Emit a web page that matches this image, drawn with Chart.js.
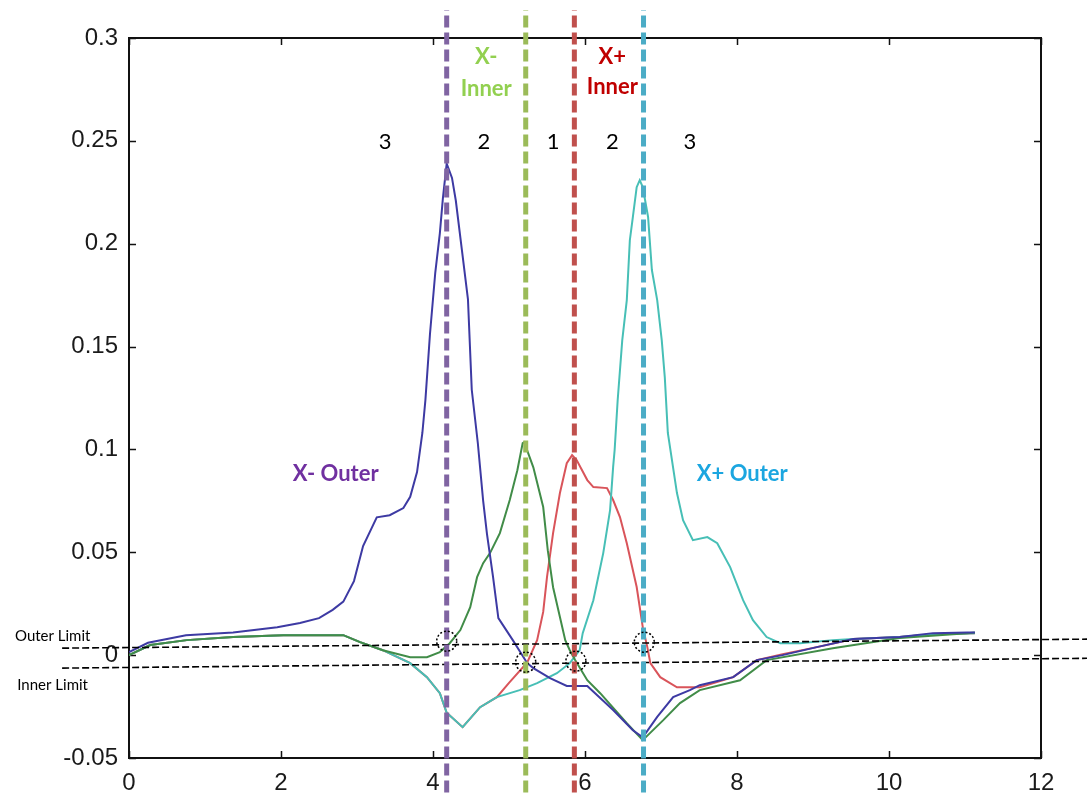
<!DOCTYPE html>
<html><head><meta charset="utf-8">
<script src="https://cdn.jsdelivr.net/npm/chart.js@4.4.1/dist/chart.umd.min.js"></script>
<style>html,body{margin:0;padding:0;background:#fff;}#wrap{width:1087px;height:797px;}</style>
</head><body><div id="wrap"><canvas id="c" width="1087" height="797"></canvas></div>
<script>
const xTickLabels = ['0','2','4','6','8','10','12'];
const yTickLabels = ['-0.05','0','0.05','0.1','0.15','0.2','0.25','0.3'];

const xMinusOuterX = [0,0.25,0.75,1.37,1.95,2.25,2.5,2.68,2.82,2.96,3.08,3.26,3.43,3.61,3.7,3.79,3.86,3.9,3.96,4.03,4.09,4.13,4.18,4.25,4.3,4.38,4.46,4.51,4.59,4.66,4.71,4.79,4.86,5.05,5.24,5.32,5.54,5.76,6.03,6.37,6.63,6.76,6.95,7.16,7.38,7.51,7.95,8.26,8.6,9.05,9.53,10.14,10.58,11.03,11.13];
const xMinusOuterY = [0.0015,0.006,0.0097,0.011,0.0136,0.0156,0.018,0.022,0.026,0.036,0.053,0.067,0.068,0.0715,0.077,0.089,0.108,0.124,0.156,0.186,0.205,0.222,0.239,0.232,0.221,0.197,0.173,0.129,0.103,0.075,0.059,0.038,0.018,0.0073,-0.0039,-0.0063,-0.0112,-0.015,-0.015,-0.0267,-0.0365,-0.040,-0.030,-0.0204,-0.017,-0.0146,-0.0107,-0.0024,0,0.0039,0.0078,0.0088,0.0107,0.011,0.011];

const xMinusInnerX = [0,0.28,0.76,1.37,2.03,2.68,2.82,3.04,3.34,3.7,3.92,4.09,4.22,4.36,4.49,4.58,4.66,4.75,4.88,5.01,5.11,5.18,5.2,5.32,5.45,5.51,5.58,5.67,5.74,5.8,5.87,6.03,6.2,6.55,6.76,7.03,7.25,7.51,8.04,8.39,9.26,10.14,11.03,11.13];
const xMinusInnerY = [0,0.0049,0.0073,0.0088,0.0097,0.0097,0.0097,0.0063,0.0024,-0.001,-0.001,0.0015,0.0058,0.0122,0.0233,0.0379,0.0447,0.0496,0.0593,0.0754,0.0899,0.1031,0.1035,0.0913,0.072,0.051,0.033,0.0185,0.0073,0.0024,-0.0024,-0.0122,-0.0185,-0.0331,-0.0413,-0.0316,-0.0233,-0.017,-0.0122,-0.0024,0.0034,0.0083,0.0107,0.011];

const xPlusInnerX = [0,0.28,0.76,1.37,2.03,2.68,2.82,3.04,3.34,3.7,3.92,4.09,4.18,4.39,4.62,4.84,5.0,5.24,5.37,5.45,5.5,5.58,5.67,5.76,5.83,5.89,6.03,6.11,6.29,6.37,6.46,6.55,6.68,6.76,6.82,6.86,6.99,7.21,7.51,7.95,8.26,8.6,9.05,9.53,10.14,10.58,11.13];
const xPlusInnerY = [0,0.0049,0.0073,0.0088,0.0097,0.0097,0.0097,0.0063,0.0024,-0.0039,-0.0107,-0.0185,-0.028,-0.035,-0.0253,-0.0204,-0.0135,-0.0035,0.0073,0.021,0.0379,0.0593,0.0788,0.0933,0.0972,0.0948,0.0851,0.0817,0.0812,0.0754,0.0671,0.0544,0.0331,0.0136,0.0039,-0.0039,-0.0107,-0.0156,-0.0156,-0.0107,-0.0024,0.0005,0.0039,0.0078,0.0088,0.0102,0.0107];

const xPlusOuterX = [0,0.28,0.76,1.37,2.03,2.68,2.82,3.04,3.34,3.7,3.92,4.09,4.18,4.39,4.62,4.84,5.14,5.37,5.63,5.8,5.93,5.97,6.11,6.24,6.33,6.37,6.39,6.43,6.49,6.55,6.59,6.63,6.68,6.72,6.76,6.83,6.88,6.95,7.01,7.05,7.09,7.21,7.29,7.42,7.61,7.74,7.91,8.08,8.21,8.39,8.57,8.83,9.26,9.53,10.14,10.58,11.13];
const xPlusOuterY = [0,0.0049,0.0073,0.0088,0.0097,0.0097,0.0097,0.0063,0.0024,-0.0039,-0.0107,-0.0185,-0.028,-0.035,-0.0253,-0.0204,-0.017,-0.0136,-0.0088,-0.0039,0.0024,0.0107,0.0267,0.0496,0.0705,0.0914,0.0997,0.124,0.153,0.1726,0.2017,0.213,0.2275,0.2309,0.2275,0.213,0.1872,0.1726,0.153,0.135,0.108,0.0788,0.0656,0.0559,0.0574,0.0544,0.0428,0.0267,0.017,0.0088,0.0058,0.0058,0.0073,0.0078,0.0088,0.0102,0.0107];

// boundary markers (x positions of the vertical dashed lines)
const boundaryNames = ['X- Outer','X- Inner','X+ Inner','X+ Outer'];
const boundaryX = [4.18, 5.22, 5.86, 6.77];
// limit lines: [x start, x end], [y start, y end]
const outerLimitX = [-0.88, 12.7];
const outerLimitY = [0.0034, 0.0078];
const innerLimitX = [-0.88, 12.7];
const innerLimitY = [-0.0063, -0.0015];
// crossing markers
const crossX = [4.18, 5.22, 5.88, 6.78];
const crossY = [0.0068, -0.0034, -0.0029, 0.0063];

const pts = (xs, ys) => xs.map((x, i) => ({x, y: ys[i]}));

const curveColors = ['#3d3aa3', '#418c48', '#d9545a', '#47bfb6'];
const boundaryColors = ['#8064A2', '#9BBB59', '#C0504D', '#4BACC6'];

const datasets = [];
boundaryX.forEach((bx, i) => {
  datasets.push({label: boundaryNames[i] + ' boundary', data: [{x: bx, y: -0.075}, {x: bx, y: 0.3136}],
    borderColor: boundaryColors[i], borderWidth: 5, borderDash: [12, 5], pointRadius: 0, clip: false, order: 1});
});
datasets.push({label: 'Outer Limit', data: pts(outerLimitX, outerLimitY), borderColor: '#000', borderWidth: 1.6, borderDash: [7, 3], pointRadius: 0, clip: false, order: 2});
datasets.push({label: 'Inner Limit', data: pts(innerLimitX, innerLimitY), borderColor: '#000', borderWidth: 1.6, borderDash: [7, 3], pointRadius: 0, clip: false, order: 2});
datasets.push({label: 'X- Outer', data: pts(xMinusOuterX, xMinusOuterY), borderColor: curveColors[0], borderWidth: 2, pointRadius: 0, order: 10});
datasets.push({label: 'X- Inner', data: pts(xMinusInnerX, xMinusInnerY), borderColor: curveColors[1], borderWidth: 2, pointRadius: 0, order: 11});
datasets.push({label: 'X+ Inner', data: pts(xPlusInnerX, xPlusInnerY), borderColor: curveColors[2], borderWidth: 2, pointRadius: 0, order: 13});
datasets.push({label: 'X+ Outer', data: pts(xPlusOuterX, xPlusOuterY), borderColor: curveColors[3], borderWidth: 2, pointRadius: 0, order: 12});

const annotations = [
  {t: 'X-', x: 4.70, y: 0.2907, c: '#92D050', f: 'bold 22px Lato'},
  {t: 'Inner', x: 4.70, y: 0.2752, c: '#92D050', f: 'bold 22px Lato'},
  {t: 'X+', x: 6.36, y: 0.2907, c: '#C00000', f: 'bold 22px Lato'},
  {t: 'Inner', x: 6.36, y: 0.2762, c: '#C00000', f: 'bold 22px Lato'},
  {t: '3', x: 3.37, y: 0.2494, c: '#000', f: '22px Lato'},
  {t: '2', x: 4.67, y: 0.2494, c: '#000', f: '22px Lato'},
  {t: '1', x: 5.58, y: 0.2494, c: '#000', f: '22px Lato'},
  {t: '2', x: 6.36, y: 0.2494, c: '#000', f: '22px Lato'},
  {t: '3', x: 7.38, y: 0.2494, c: '#000', f: '22px Lato'},
  {t: 'X- Outer', x: 2.72, y: 0.088, c: '#7030A0', f: 'bold 22px Lato'},
  {t: 'X+ Outer', x: 8.07, y: 0.088, c: '#1BA6E0', f: 'bold 22px Lato'},
  {t: 'Outer Limit', x: -1.5, y: 0.0092, c: '#000', f: '15px Lato', a: 'left'},
  {t: 'Inner Limit', x: -1.47, y: -0.0146, c: '#000', f: '15px Lato', a: 'left'}
];

const framePlugin = {
  id: 'frame',
  beforeDatasetsDraw(chart) {
    const {ctx, chartArea: a, scales} = chart;
    ctx.save();
    ctx.strokeStyle = '#111'; ctx.lineWidth = 2;
    ctx.strokeRect(a.left, a.top, a.right - a.left, a.bottom - a.top);
    ctx.lineWidth = 1.5;
    ctx.beginPath();
    scales.x.ticks.forEach(t => {
      const px = Math.round(scales.x.getPixelForValue(t.value)) + 0.5;
      ctx.moveTo(px, a.bottom); ctx.lineTo(px, a.bottom - 7);
      ctx.moveTo(px, a.top); ctx.lineTo(px, a.top + 7);
    });
    scales.y.ticks.forEach(t => {
      const py = Math.round(scales.y.getPixelForValue(t.value)) + 0.5;
      ctx.moveTo(a.left, py); ctx.lineTo(a.left + 7, py);
      ctx.moveTo(a.right, py); ctx.lineTo(a.right - 7, py);
    });
    ctx.stroke();
    ctx.restore();
  },
  afterDatasetsDraw(chart) {
    const {ctx, scales} = chart;
    ctx.save();
    ctx.strokeStyle = '#000'; ctx.lineWidth = 1.5; ctx.setLineDash([2, 2]);
    crossX.forEach((cx, i) => {
      ctx.beginPath();
      ctx.arc(scales.x.getPixelForValue(cx), scales.y.getPixelForValue(crossY[i]), 10, 0, Math.PI * 2);
      ctx.stroke();
    });
    ctx.setLineDash([]);
    ctx.textBaseline = 'middle';
    annotations.forEach(an => {
      ctx.font = an.f; ctx.fillStyle = an.c; ctx.textAlign = an.a || 'center';
      ctx.fillText(an.t, scales.x.getPixelForValue(an.x), scales.y.getPixelForValue(an.y));
    });
    ctx.restore();
  }
};

new Chart(document.getElementById('c'), {
  type: 'line',
  data: {datasets},
  options: {
    responsive: false, animation: false, devicePixelRatio: 1,
    layout: {padding: {left: 0, top: 38, right: 46, bottom: 0}},
    plugins: {legend: {display: false}, tooltip: {enabled: false}},
    elements: {line: {tension: 0}},
    scales: {
      x: {
        type: 'linear', min: 0, max: 12,
        afterFit: s => { s.height = 39; },
        grid: {display: false, drawTicks: false},
        border: {display: false},
        ticks: {stepSize: 2, padding: 11, color: '#1a1a1a', font: {family: 'Liberation Sans', size: 24},
          callback: (v, i) => xTickLabels[i]}
      },
      y: {
        type: 'linear', min: -0.05, max: 0.3,
        afterFit: s => { s.width = 129; },
        grid: {display: false, drawTicks: false},
        border: {display: false},
        ticks: {stepSize: 0.05, padding: 11, color: '#1a1a1a', font: {family: 'Liberation Sans', size: 24},
          callback: (v, i) => yTickLabels[i]}
      }
    }
  },
  plugins: [framePlugin]
});
</script>
</body></html>
